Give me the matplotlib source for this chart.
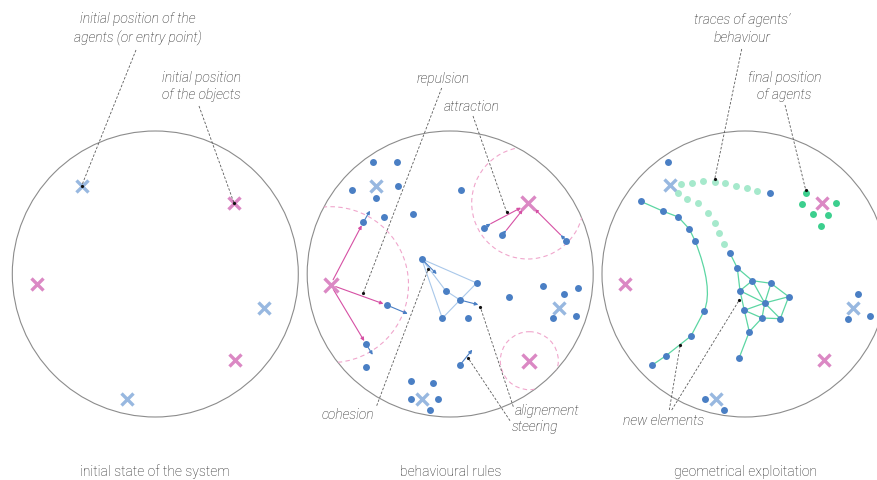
import matplotlib
matplotlib.use("Agg")
import matplotlib.pyplot as plt
from matplotlib.patches import Circle, PathPatch
from matplotlib.path import Path

# --- colours ---
BLUE = "#4a7fc4"
BLUE_X = "#98b8e0"
PINK_X = "#db88c4"
MAGENTA = "#d650a4"
PINK_RING = "#f0a6cc"
LIGHT_BLUE_LINE = "#a9c8ea"
TRACE_GREEN = "#a6e9cc"
FINAL_GREEN = "#3ccf8e"
MESH_GREEN = "#5cd6a3"
OUTLINE = "#8c8c8c"
NOTE = "#5a5a5a"
TEXT = "#1e1e1e"

# --- three systems (centre x, centre y, radius) ---
systems = [(155.3, 275, 143), (450.2, 275, 143), (745, 275, 143)]
system_titles = ["initial state of the system", "behavioural rules", "geometrical exploitation"]

# --- panel 1 ---
p1_agents = [(81.7, 186.7), (264, 309), (127, 400)]
p1_objects = [(234, 204), (37.3, 285), (235, 361)]

# --- panel 2 ---
p2_agents = [(376, 186.7), (559, 308.5), (421.7, 400)]
p2_objects = [(330.5, 285.7), (527.7, 204), (529.3, 361.7)]
p2_ranges = [78, 56, 29]
p2_dots = [(373.3, 162.7), (397.3, 162.7), (351.7, 190.7), (398, 186.7), (376, 199.3),
           (461.3, 191), (383.7, 217.7), (413.3, 215), (365.7, 368.3),
           (476.7, 284), (445.7, 291.7), (442.3, 319.3), (467.7, 319.3),
           (509, 297.5), (542.5, 287.2), (563.5, 295.2), (578.3, 289.3), (553.3, 319.3), (575.7, 317),
           (411, 381.7), (432.7, 384), (411, 400), (438.3, 400), (430, 411)]
# moving agents: position and heading tip
p2_movers = [(363.3, 223.3), (386.7, 306), (366, 345), (421.7, 260), (460, 301),
             (460, 366), (484.3, 228.7), (502, 236), (566, 241.7)]
p2_heads = [(370, 211.7), (407.7, 314.8), (372.7, 355.8), (436.7, 275), (478.3, 305.7),
            (472.3, 350.7), (490.7, 224.7), (506.3, 231.3), (560.7, 236)]
# repulsion from the left object towards three agents
repulsion_targets = [0, 1, 2]
# attraction: from heading tip to the top-right object
attraction_from = [6, 7, 8]
attraction_to = [(521, 208.7), (522.7, 210.7), (534.7, 210)]
# neighbourhood (cohesion) links between agents
cohesion_nodes = [(421.7, 260), (476.7, 284), (445.7, 291.7), (460, 301), (442.3, 319.3)]
cohesion_links = [(0, 1), (0, 2), (0, 4), (2, 3), (3, 1), (3, 4)]

# --- panel 3 ---
p3_agents = [(670.3, 186), (853.3, 309), (716, 400)]
p3_objects = [(625, 285), (822.3, 204), (823.7, 361)]
p3_dots = [(667.7, 162.7), (770, 194.3), (858, 295), (847.7, 320), (870, 317),
           (705.3, 400), (724.3, 411)]
trace_a = [(680.7, 185), (692.3, 184), (702.7, 182), (714.7, 183.3), (725, 184),
           (736, 186.7), (747, 189.3), (756.7, 191.7)]
trace_b = [(678.3, 194.3), (686.7, 200), (697.7, 204), (708, 213.7), (714.7, 224),
           (719, 234.3), (724.3, 244.7)]
final_agents = [(806, 194), (802.3, 205.3), (836, 204.3), (813.3, 215), (828.3, 216.3), (821, 227.3)]
chain_top = [(640.7, 202.3), (663.3, 212.3), (678.3, 218), (689.3, 230), (695, 241.7)]
chain_bottom = [(704.3, 311.7), (691, 337), (666, 356.7), (652.3, 366)]
chain_bend = (713.7, 289.3)
mesh_nodes = [(730, 254.3), (737.3, 269), (752.3, 281.7), (771, 284.3), (740, 291.7),
              (788.7, 297.7), (764.7, 304), (744.3, 311.3), (762, 319), (780.3, 319.7),
              (749.3, 332.7), (739, 359.3)]
mesh_links = [(0, 1), (1, 2), (1, 4), (2, 3), (2, 4), (2, 6), (3, 6), (3, 5), (4, 6), (4, 7),
              (5, 6), (5, 9), (6, 7), (6, 8), (6, 9), (7, 8), (7, 10), (8, 9), (8, 10), (10, 11)]

# --- annotations: (label, x, y, ha, leader lines [(from), (to)]) ---
notes = [
    ("initial position of the\nagents (or entry point)", 138, 29, "center", [((136, 51), (81.7, 186.7))]),
    ("initial position\nof the objects", 201, 86.5, "center", [((199, 107), (234, 204))]),
    ("repulsion", 443, 79, "center", [((441.7, 89), (363.3, 293.8))]),
    ("attraction", 471.7, 106.7, "center", [((473, 117), (506.7, 213.3))]),
    ("cohesion", 347.7, 415.5, "center", [((376.7, 406.7), (428.3, 270))]),
    ("alignement", 515, 411.5, "left", [((513.3, 407.7), (480.2, 307.7))]),
    ("steering", 512, 427.5, "left", [((510, 421.7), (468.3, 359.3))]),
    ("traces of agents’\nbehaviour", 741.7, 29, "center", [((741.7, 50), (714.7, 180))]),
    ("final position\nof agents", 784.3, 86.5, "center", [((785, 106), (805.7, 191))]),
    ("new elements", 664, 421.5, "center", [((669.3, 411), (680.3, 345.7)), ((671.7, 411), (739.3, 301))]),
]

fig = plt.figure(figsize=(8.77, 4.81), dpi=100)
ax = fig.add_axes([0, 0, 1, 1])
ax.set_xlim(0, 877)
ax.set_ylim(481, 0)
ax.axis("off")

outlines = []
for (cx, cy, r), title in zip(systems, system_titles):
    c = Circle((cx, cy), r, fill=False, edgecolor=OUTLINE, lw=0.8, zorder=1)
    ax.add_patch(c)
    outlines.append(c)
    ax.text(cx, 472, title, ha="center", va="center", fontsize=10,
            family="Roboto", weight="light", color=TEXT)


def crosses(points, color, size=8.5):
    xs, ys = zip(*points)
    ax.plot(xs, ys, linestyle="none", marker="x", color=color, markersize=size,
            markeredgewidth=2.4, zorder=4)


def dots(points, color, size=5, z=5):
    xs, ys = zip(*points)
    ax.plot(xs, ys, linestyle="none", marker="o", color=color, markersize=size,
            markeredgewidth=0, zorder=z)


def arrow(a, b, color, lw=0.8, shrinkA=0, shrinkB=0, z=3):
    ax.annotate("", xy=b, xytext=a, zorder=z,
                arrowprops=dict(arrowstyle="-|>", color=color, lw=lw, mutation_scale=5,
                                shrinkA=shrinkA, shrinkB=shrinkB))


# panel 1
crosses(p1_agents, BLUE_X)
crosses(p1_objects, PINK_X)

# panel 2
for (ox, oy), r in zip(p2_objects, p2_ranges):
    ring = Circle((ox, oy), r, fill=False, edgecolor=PINK_RING, lw=0.8, ls=(0, (4, 3)), zorder=2)
    ax.add_patch(ring)
    ring.set_clip_path(outlines[1])
crosses(p2_agents, BLUE_X)
crosses(p2_objects, PINK_X, size=10)
for i, j in cohesion_links:
    (x1, y1), (x2, y2) = cohesion_nodes[i], cohesion_nodes[j]
    ax.plot([x1, x2], [y1, y2], color=LIGHT_BLUE_LINE, lw=0.8, zorder=2)
for k in repulsion_targets:
    arrow(p2_objects[0], p2_movers[k], MAGENTA, shrinkA=4, shrinkB=2.5)
for k, tip in zip(attraction_from, attraction_to):
    arrow(p2_heads[k], tip, MAGENTA)
for a, b in zip(p2_movers, p2_heads):
    arrow(a, b, BLUE)
dots(p2_dots, BLUE)
dots(p2_movers, BLUE)

# panel 3
crosses(p3_agents, BLUE_X)
crosses(p3_objects, PINK_X)
dots(trace_a + trace_b, TRACE_GREEN)
dots(final_agents, FINAL_GREEN)
cx, cy = zip(*chain_top)
ax.plot(cx, cy, color=MESH_GREEN, lw=0.9, zorder=3)
cx, cy = zip(*chain_bottom)
ax.plot(cx, cy, color=MESH_GREEN, lw=0.9, zorder=3)
bend = Path([chain_top[-1], chain_bend, chain_bottom[0]], [Path.MOVETO, Path.CURVE3, Path.CURVE3])
ax.add_patch(PathPatch(bend, fill=False, edgecolor=MESH_GREEN, lw=0.9, zorder=3))
for i, j in mesh_links:
    (x1, y1), (x2, y2) = mesh_nodes[i], mesh_nodes[j]
    ax.plot([x1, x2], [y1, y2], color=MESH_GREEN, lw=0.9, zorder=3)
dots(p3_dots, BLUE)
dots(chain_top + chain_bottom, BLUE)
dots(mesh_nodes, BLUE)

# annotations
for label, tx, ty, ha, leaders in notes:
    ax.text(tx, ty, label, ha=ha, va="center", fontsize=10, family="Roboto",
            weight="light", style="italic", color=TEXT, linespacing=1.35)
    for start, end in leaders:
        ax.plot([start[0], end[0]], [start[1], end[1]], color=NOTE, lw=0.6,
                ls=(0, (3, 2)), zorder=6)
        ax.plot(end[0], end[1], marker="o", color="#111111", markersize=2.3,
                markeredgewidth=0, zorder=7)

fig.savefig("out.png", dpi=100)
